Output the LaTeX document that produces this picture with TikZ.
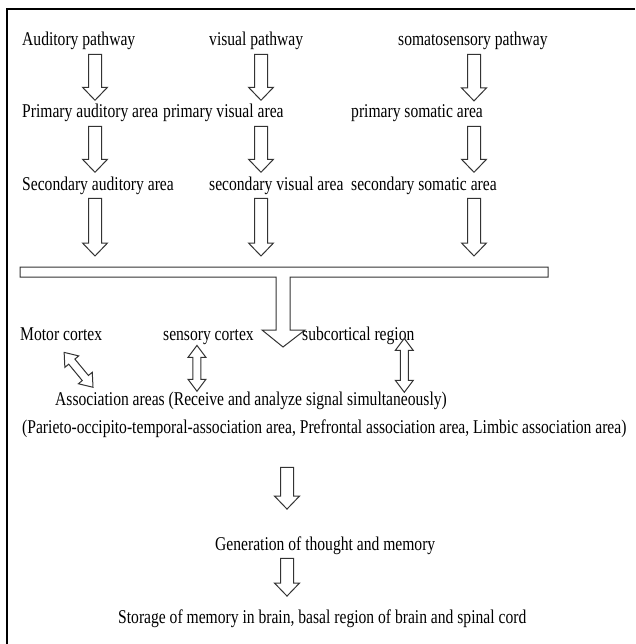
\documentclass[tikz,border=0pt]{standalone}
\usepackage{fontspec}
\setmainfont{Liberation Serif}[FakeStretch=0.8]
\usepackage{tikz}
\usetikzlibrary{calc}

\tikzset{
  arrshaft/.store in=\arrshaft, arrhead/.store in=\arrhead, arrlen/.store in=\arrlen,
  arrshaft=6.5pt, arrhead=12.5pt, arrlen=13pt,
  hollow/.style={draw=black!80, line width=1pt, fill=white, to path={
    ($(\tikztostart)!\arrshaft!90:(\tikztotarget)$)
    -- ($($(\tikztotarget)!\arrlen!(\tikztostart)$)!\arrshaft!90:(\tikztotarget)$)
    -- ($($(\tikztotarget)!\arrlen!(\tikztostart)$)!\arrhead!90:(\tikztotarget)$)
    -- (\tikztotarget)
    -- ($($(\tikztotarget)!\arrlen!(\tikztostart)$)!\arrhead!-90:(\tikztotarget)$)
    -- ($($(\tikztotarget)!\arrlen!(\tikztostart)$)!\arrshaft!-90:(\tikztotarget)$)
    -- ($(\tikztostart)!\arrshaft!-90:(\tikztotarget)$) -- cycle}},
  dhollow/.style={draw=black!80, line width=1pt, fill=white,
    arrshaft=4pt, arrhead=9pt, arrlen=12pt, to path={
    (\tikztostart)
    -- ($($(\tikztostart)!\arrlen!(\tikztotarget)$)!\arrhead!90:(\tikztotarget)$)
    -- ($($(\tikztostart)!\arrlen!(\tikztotarget)$)!\arrshaft!90:(\tikztotarget)$)
    -- ($($(\tikztotarget)!\arrlen!(\tikztostart)$)!\arrshaft!90:(\tikztotarget)$)
    -- ($($(\tikztotarget)!\arrlen!(\tikztostart)$)!\arrhead!90:(\tikztotarget)$)
    -- (\tikztotarget)
    -- ($($(\tikztotarget)!\arrlen!(\tikztostart)$)!\arrhead!-90:(\tikztotarget)$)
    -- ($($(\tikztotarget)!\arrlen!(\tikztostart)$)!\arrshaft!-90:(\tikztotarget)$)
    -- ($($(\tikztostart)!\arrlen!(\tikztotarget)$)!\arrshaft!-90:(\tikztotarget)$)
    -- ($($(\tikztostart)!\arrlen!(\tikztotarget)$)!\arrhead!-90:(\tikztotarget)$)
    -- cycle}},
}

\begin{document}
\begin{tikzpicture}[x=1pt,y=-1pt,
    lbl/.style={font=\fontsize{19.5}{22}\selectfont, inner xsep=0pt, inner ysep=4pt, anchor=base west}]
    \useasboundingbox (0,0) rectangle (635,644);
    \draw[line width=2.5pt] (635,9) -- (7,9) -- (7,644);

    % columns of the arrows
    \coordinate (colA) at (95,0);
    \coordinate (colV) at (261,0);
    \coordinate (colS) at (474,0);
    \coordinate (colM) at (287,0);
    \coordinate (busin) at (0,256);

    % pathways
    \node[lbl] (aud) at (22,46) {Auditory pathway};
    \node[lbl] (vis) at (209,46) {visual pathway};
    \node[lbl] (som) at (398,46) {somatosensory pathway};
    \node[lbl] (paud) at (22,118) {Primary auditory area};
    \node[lbl] (pvis) at (163,118) {primary visual area};
    \node[lbl] (psom) at (351,118) {primary somatic area};
    \node[lbl] (saud) at (22,190) {Secondary auditory area};
    \node[lbl] (svis) at (209,190) {secondary visual area};
    \node[lbl] (ssom) at (351,190) {secondary somatic area};

    \draw[hollow] (aud.south -| colA) to (paud.north -| colA);
    \draw[hollow] (vis.south -| colV) to (pvis.north -| colV);
    \draw[hollow] (som.south -| colS) to (psom.north -| colS);
    \draw[hollow] (paud.south -| colA) to (saud.north -| colA);
    \draw[hollow] (pvis.south -| colV) to (svis.north -| colV);
    \draw[hollow] (psom.south -| colS) to (ssom.north -| colS);
    \draw[hollow] (saud.south -| colA) to (busin -| colA);
    \draw[hollow] (svis.south -| colV) to (busin -| colV);
    \draw[hollow] (ssom.south -| colS) to (busin -| colS);

    % bus bar
    \draw[draw=black!80, line width=1pt, fill=white] (20,267) -- (548,267) -- (548,277) -- (290,277)
        -- (290,330) -- (305,330) -- (283,347) -- (262,330) -- (276,330) -- (276,277) -- (20,277) -- cycle;

    % cortex
    \node[lbl] (motor) at (20,340) {Motor cortex};
    \node[lbl] (sens) at (163,340) {sensory cortex};
    \node[lbl] (subc) at (302,340) {subcortical region};
    \node[lbl] (assoc) at (55,405) {Association areas (Receive and analyze signal simultaneously)};
    \node[lbl] (list) at (22,433) {(Parieto-occipito-temporal-association area, Prefrontal association area, Limbic association area)};

    \draw[dhollow] ($(motor.south)+(3,8)$) to ($(assoc.north west)+(38,0)$);
    \draw[dhollow] ($(sens.south)+(-11.5,-3)$) to ($(assoc.north -| sens.south)+(-11.5,4)$);
    \draw[dhollow] ($(subc.south)+(46,-10)$) to ($(assoc.north -| subc.south)+(46,5)$);

    % outcome
    \node[lbl] (gen) at (215,550) {Generation of thought and memory};
    \node[lbl] (stor) at (118,623) {Storage of memory in brain, basal region of brain and spinal cord};

    \draw[hollow] ($(list.south -| colM)+(0,26)$) to ($(gen.north -| colM)+(0,-23)$);
    \draw[hollow] (gen.south -| colM) to ($(stor.north -| colM)+(0,-9)$);
\end{tikzpicture}
\end{document}
